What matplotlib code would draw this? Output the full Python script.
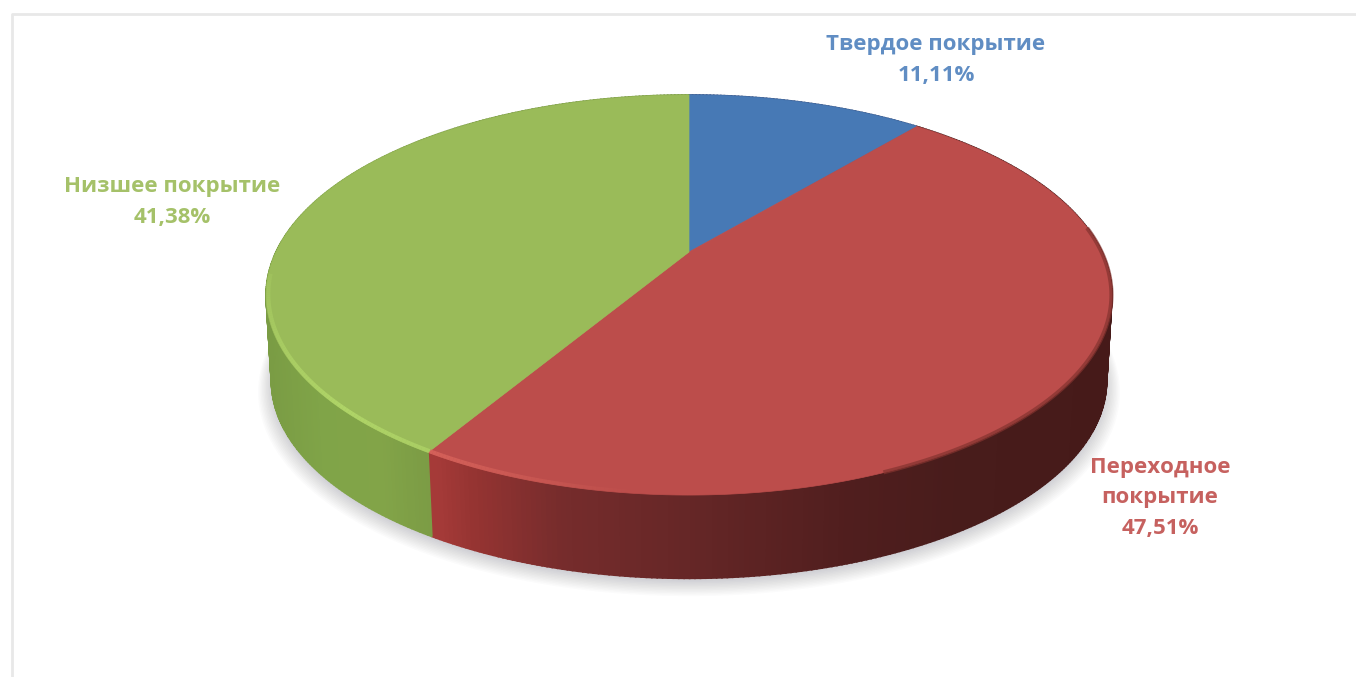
import matplotlib
matplotlib.use('Agg')
import matplotlib.pyplot as plt
import numpy as np

# Shares of the pie (percent), clockwise from 12 o'clock
labels = ['Твердое покрытие', 'Переходное\nпокрытие', 'Низшее покрытие']
shares = [11.11, 47.51, 41.38]
share_text = ['11,11%', '47,51%', '41,38%']
face_colors = ['#4779B5', '#BC4D4B', '#9ABB59']
text_colors = ['#4F81BD', '#C0504D', '#9BBB59']
label_pos = [(936, 60), (1160, 498), (172, 202)]

# Tilted disc geometry, in picture pixels
cx, cy = 689, 252
k = 413
a = 190.8
c = -0.215
depth = 87


def project(theta, scale=1.0):
    # clockwise angle from the top, perspective view of a unit circle
    u = scale * np.sin(theta)
    v = -scale * np.cos(theta)
    den = 1 + c * v
    return cx + k * u / den, cy + a * v / den


def wall_color(i, x):
    # side wall shading runs left to right
    if i == 1:
        xs = [437, 470, 560, 700, 850, 960, 1110]
        r = [165, 150, 118, 100, 80, 72, 70]
        g = [58, 52, 44, 38, 30, 28, 26]
        b = [56, 50, 44, 38, 30, 27, 25]
    elif i == 2:
        xs = [266, 320, 380, 437]
        r = [122, 128, 130, 122]
        g = [156, 164, 164, 154]
        b = [68, 72, 72, 68]
    else:
        xs = [689, 920]
        r = [60, 60]
        g = [90, 90]
        b = [140, 140]
    return (np.interp(x, xs, r) / 255, np.interp(x, xs, g) / 255, np.interp(x, xs, b) / 255)


fig = plt.figure(figsize=(13.56, 6.77), dpi=100)
ax = fig.add_axes([0, 0, 1, 1])
ax.set_xlim(0, 1356)
ax.set_ylim(677, 0)
ax.axis('off')

# Outer frame of the chart area
ax.plot([12, 12, 1356], [677, 14, 14], color='#E8E8E8', lw=2)

# Soft shadow below the disc
t = np.linspace(0, 2 * np.pi, 361)
for step in range(12):
    sx, sy = project(t, 0.985 + step * 0.003)
    ax.fill(sx, sy + depth + 3 + step * 0.5, color='#555566', alpha=0.022, lw=0, zorder=1)

edges = np.cumsum([0] + shares) / 100 * 2 * np.pi

# Side wall, thin vertical strips so the shade can change along x
for i in range(len(shares)):
    th = np.linspace(edges[i], edges[i + 1], int(shares[i] * 6) + 2)
    for t0, t1 in zip(th[:-1], th[1:]):
        x0, y0 = project(t0)
        x1, y1 = project(t1)
        bx0, by0 = project(t0, 0.988)
        bx1, by1 = project(t1, 0.988)
        ax.fill([x0, x1, bx1, bx0], [y0, y1, by1 + depth, by0 + depth],
                color=wall_color(i, (x0 + x1) / 2), lw=1.2, zorder=2)

# Top face
for i in range(len(shares)):
    th = np.linspace(edges[i], edges[i + 1], 300)
    x, y = project(th)
    ax.fill(np.r_[cx, x], np.r_[cy, y], color=face_colors[i], lw=0.5, zorder=3)

# Soft edge where the red face meets the dark wall on the right
th = np.linspace(1.45, 2.75, 90)
x, y = project(th, 0.999)
ax.plot(x, y, color='#84332F', lw=3, alpha=0.7, zorder=4)

# Bevel highlight on the front rim, strongest near the lower left
rim_colors = {1: '#E06A60', 2: '#B9E06E'}
for i, lo, hi in [(1, 2.95, edges[2]), (2, edges[2], 4.6)]:
    th = np.linspace(lo, hi, 90)
    peak = np.radians(225) if i == 2 else edges[2]
    for t0, t1 in zip(th[:-1], th[1:]):
        strength = max(0, 1 - abs((t0 + t1) / 2 - peak) / (0.9 if i == 2 else 0.45))
        x, y = project(np.array([t0, t1]), 0.995)
        ax.plot(x, y, color=rim_colors[i], lw=3, alpha=0.7 * strength,
                solid_capstyle='butt', zorder=4)

# Data labels
for i in range(len(shares)):
    ax.text(label_pos[i][0], label_pos[i][1], labels[i] + '\n' + share_text[i],
            color=text_colors[i], fontsize=16, fontweight='bold', family='Open Sans',
            ha='center', va='center', linespacing=1.58, alpha=0.9, zorder=5)

fig.savefig('out.png', dpi=100, facecolor='white')
